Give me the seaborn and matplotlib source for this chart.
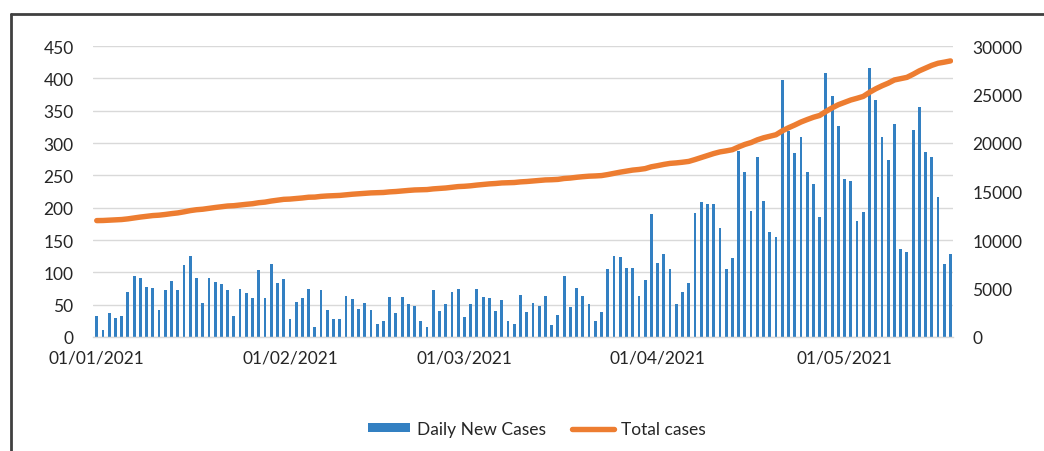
import pandas as pd
import numpy as np
import matplotlib
matplotlib.use("Agg")
import matplotlib.pyplot as plt
import seaborn as sns
from matplotlib.lines import Line2D
from matplotlib.patches import Patch

START_DATE = "2021-01-01"

# daily new cases, one value per day from 01/01/2021
daily_new_cases = [
    32, 11, 37, 29, 33, 70, 94, 91, 78, 76, 41, 73, 87, 72, 112, 125,
    91, 53, 92, 85, 82, 73, 33, 74, 68, 61, 103, 61, 113, 84, 89,
    28, 54, 61, 75, 16, 73, 42, 28, 28, 63, 59, 44, 52, 41, 20, 24,
    62, 37, 62, 51, 48, 24, 16, 72, 40, 51, 70, 75,
    31, 51, 74, 62, 60, 40, 57, 24, 20, 65, 39, 53, 48, 63, 19, 34,
    94, 47, 76, 64, 51, 25, 38, 105, 125, 123, 106, 106, 64, 88, 190,
    115, 129, 105, 51, 69, 84, 191, 208, 206, 206, 169, 105, 122, 288,
    255, 195, 278, 211, 162, 154, 397, 319, 284, 309, 255, 237, 185,
    409, 372, 327,
    245, 241, 179, 193, 416, 366, 310, 273, 330, 136, 131, 320, 355,
    286, 278, 216, 113, 128,
]

# total cases (right axis)
total_cases = [
    12000, 12011, 12048, 12077, 12110, 12180, 12274, 12365, 12443, 12519,
    12560, 12633, 12720, 12792, 12904, 13029, 13120, 13173, 13265, 13350,
    13432, 13505, 13538, 13612, 13680, 13741, 13844, 13905, 14018, 14102,
    14191, 14219, 14273, 14334, 14409, 14425, 14498, 14540, 14568, 14596,
    14659, 14718, 14762, 14814, 14855, 14875, 14899, 14961, 14998, 15060,
    15111, 15159, 15183, 15199, 15271, 15311, 15362, 15432, 15507, 15538,
    15589, 15663, 15725, 15785, 15825, 15882, 15906, 15926, 15991, 16030,
    16083, 16131, 16194, 16213, 16247, 16341, 16388, 16464, 16528, 16579,
    16604, 16642, 16747, 16872, 16995, 17101, 17207, 17271, 17359, 17549,
    17664, 17793, 17898, 17949, 18018, 18102, 18293, 18501, 18707, 18913,
    19082, 19187, 19309, 19597, 19852, 20047, 20325, 20536, 20698, 20852,
    21249, 21568, 21852, 22161, 22416, 22653, 22838, 23247, 23619, 23946,
    24191, 24432, 24611, 24804, 25220, 25586, 25896, 26169, 26499, 26635,
    26766, 27086, 27441, 27727, 28005, 28221, 28334, 28462,
]

tick_labels = ["01/01/2021", "01/02/2021", "01/03/2021", "01/04/2021", "01/05/2021"]
left_ticks = [0, 50, 100, 150, 200, 250, 300, 350, 400, 450]
right_ticks = [0, 5000, 10000, 15000, 20000, 25000, 30000]

BAR_COLOR = "#3380C2"
LINE_COLOR = "#ED7D31"
GRID_COLOR = "#D9D9D9"
TEXT_COLOR = "#262626"

sns.set_theme(style="white")
plt.rcParams["font.family"] = ["Lato", "DejaVu Sans"]

dates = pd.date_range(START_DATE, periods=len(daily_new_cases), freq="D")
df = pd.DataFrame({
    "day": np.arange(len(dates)),
    "date": dates.strftime("%d/%m/%Y"),
    "daily": daily_new_cases,
    "total": total_cases,
})

fig = plt.figure(figsize=(10.44, 4.52), dpi=100)
ax = fig.add_axes([93 / 1044, 1 - 338 / 452, (953 - 93) / 1044, (338 - 47) / 452])
ax2 = ax.twinx()

sns.barplot(data=df, x="day", y="daily", color=BAR_COLOR, width=0.45,
            saturation=1, linewidth=0, ax=ax, zorder=2)
sns.lineplot(data=df, x="day", y="total", color=LINE_COLOR, linewidth=3.9,
             ax=ax2, zorder=3)

ax.set_xlim(-0.6, len(df) - 0.6)
ax.set_ylim(0, 450)
ax2.set_ylim(0, 30000)

ax.set_yticks(left_ticks)
ax2.set_yticks(right_ticks)
ax.set_yticklabels([str(v) for v in left_ticks], fontsize=12.5, color=TEXT_COLOR)
ax2.set_yticklabels([str(v) for v in right_ticks], fontsize=12.5, color=TEXT_COLOR)

tick_pos = [int(df.index[df["date"] == lab][0]) for lab in tick_labels]
ax.set_xticks(tick_pos)
ax.set_xticklabels(tick_labels, fontsize=12.5, color=TEXT_COLOR)
ax.set_xticks([p - 0.5 for p in tick_pos], minor=True)
ax.tick_params(axis="x", which="major", length=0, pad=9)
ax.tick_params(axis="x", which="minor", length=4, color=GRID_COLOR, width=1)
ax.tick_params(axis="y", length=0, pad=14)
ax2.tick_params(axis="y", length=0, pad=14)

ax.grid(axis="y", color=GRID_COLOR, linewidth=1, zorder=0)
ax.set_axisbelow(True)
ax.set_xlabel("")
ax.set_ylabel("")
ax2.set_xlabel("")
ax2.set_ylabel("")

for a in (ax, ax2):
    for side in ("top", "left", "right"):
        a.spines[side].set_visible(False)
    a.spines["bottom"].set_color(GRID_COLOR)
    a.spines["bottom"].set_linewidth(1)
ax2.spines["bottom"].set_visible(False)

# outer chart frame (only left and top edges are visible in the picture)
frame_x = 11 / 1044
frame_y = 1 - 15 / 452
fig.add_artist(Line2D([frame_x, frame_x], [0, frame_y], color="#404040",
                      linewidth=2, transform=fig.transFigure))
fig.add_artist(Line2D([frame_x, 1], [frame_y, frame_y], color="#404040",
                      linewidth=2, transform=fig.transFigure))

handles = [
    Patch(facecolor=BAR_COLOR, edgecolor="none"),
    Line2D([0], [0], color=LINE_COLOR, linewidth=3.9),
]
fig.legend(handles, ["Daily New Cases", "Total cases"], loc="center",
           bbox_to_anchor=(537 / 1044, 1 - 430 / 452), ncol=2, frameon=False,
           fontsize=12.5, handlelength=2.4, handleheight=0.45,
           columnspacing=1.5, handletextpad=0.4, labelcolor=TEXT_COLOR)

fig.savefig("out.png", dpi=100)
plt.close(fig)
